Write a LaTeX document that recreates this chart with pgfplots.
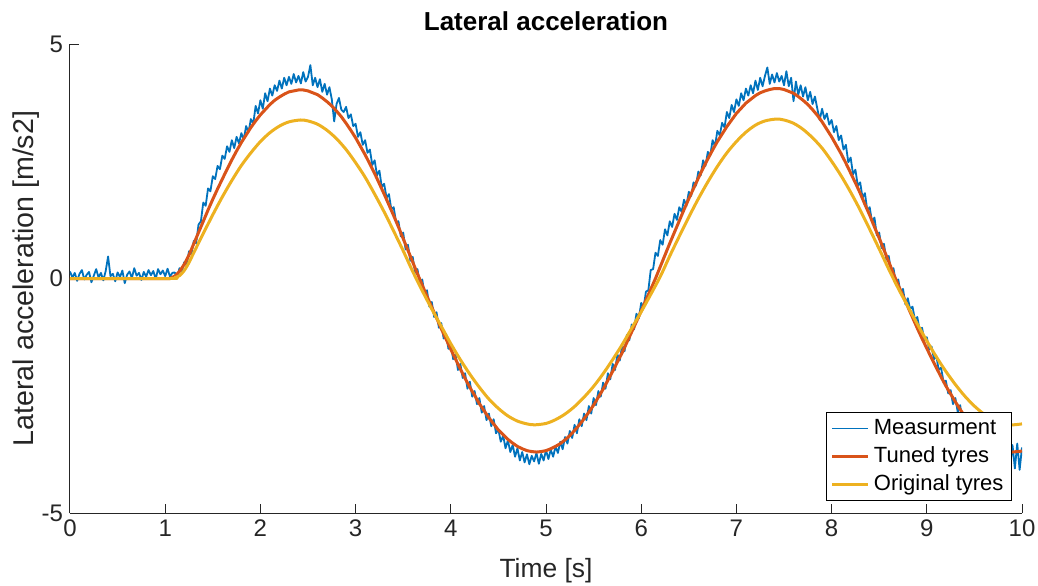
\documentclass[border=0pt]{standalone}
\usepackage{fontspec}
\setmainfont{Liberation Sans}
\usepackage{pgfplots}
\usepackage{pgfplotstable}
\pgfplotsset{compat=1.18}
\definecolor{mblue}{RGB}{0,114,189}
\definecolor{mred}{RGB}{217,83,25}
\definecolor{myel}{RGB}{237,177,32}
\definecolor{axgray}{RGB}{38,38,38}

\pgfplotstableread{
x y
0 0.15
0.025 0.02
0.05 0.12
0.075 -0.05
0.1 0.10
0.125 0.18
0.15 -0.02
0.175 0.08
0.2 0.14
0.225 -0.08
0.25 0.06
0.275 0.20
0.3 0.02
0.325 0.12
0.35 -0.04
0.375 0.16
0.4 0.47
0.425 0.05
0.45 0.10
0.475 -0.06
0.5 0.13
0.525 0.03
0.55 0.17
0.575 -0.10
0.6 0.08
0.625 0.15
0.65 0.01
0.675 0.22
0.7 0.06
0.725 0.12
0.75 -0.03
0.775 0.14
0.8 0.04
0.825 0.18
0.85 0.07
0.875 0.16
0.9 -0.01
0.925 0.20
0.95 0.09
0.975 0.17
1.0 0.05
1.025 0.21
1.05 0.04
1.075 0.12
1.1 0.13
1.125 0.02
1.15 0.22
1.175 0.14
1.2 0.35
1.225 0.28
1.25 0.58
1.275 0.52
1.3 0.80
1.325 0.75
1.35 1.15
1.375 1.22
1.4 1.62
1.425 1.55
1.45 1.92
1.475 1.86
1.5 2.18
1.525 2.12
1.55 2.40
1.575 2.33
1.6 2.62
1.625 2.55
1.65 2.82
1.675 2.70
1.7 2.95
1.725 2.78
1.75 3.02
1.775 2.88
1.8 3.10
1.825 2.96
1.85 3.25
1.875 3.12
1.9 3.40
1.925 3.30
1.95 3.68
1.975 3.52
2.0 3.80
2.025 3.62
2.05 3.95
2.075 3.78
2.1 4.05
2.125 3.90
2.15 4.12
2.175 4.00
2.2 4.22
2.225 4.05
2.25 4.28
2.275 4.12
2.3 4.30
2.325 4.15
2.35 4.36
2.375 4.18
2.4 4.32
2.425 4.16
2.45 4.40
2.475 4.20
2.5 4.30
2.525 4.55
2.55 4.12
2.575 4.28
2.6 4.08
2.625 4.25
2.65 3.98
2.675 4.15
2.7 3.92
2.725 4.08
2.75 3.82
2.775 3.35
2.8 3.72
2.825 3.85
2.85 3.60
2.875 3.55
2.9 3.66
2.925 3.42
2.95 3.50
2.975 3.25
3.0 3.30
3.025 3.02
3.05 3.12
3.075 2.85
3.1 2.95
3.125 2.68
3.15 2.75
3.175 2.42
3.2 2.52
3.225 2.20
3.25 2.30
3.275 1.95
3.3 2.02
3.325 1.72
3.35 1.80
3.375 1.48
3.4 1.52
3.425 1.20
3.45 1.22
3.475 0.90
3.5 0.98
3.525 0.62
3.55 0.72
3.575 0.38
3.6 0.46
3.625 0.12
3.65 0.20
3.675 -0.12
3.7 -0.02
3.725 -0.35
3.75 -0.25
3.775 -0.60
3.8 -0.50
3.825 -0.82
3.85 -0.72
3.875 -1.05
3.9 -0.95
3.925 -1.28
3.95 -1.18
3.975 -1.50
4.0 -1.40
4.025 -1.72
4.05 -1.62
4.075 -1.95
4.1 -1.82
4.125 -2.12
4.15 -2.02
4.175 -2.35
4.2 -2.20
4.225 -2.52
4.25 -2.40
4.275 -2.68
4.3 -2.55
4.325 -2.86
4.35 -2.72
4.375 -3.02
4.4 -2.88
4.425 -3.15
4.45 -3.00
4.475 -3.30
4.5 -3.22
4.525 -3.48
4.55 -3.35
4.575 -3.62
4.6 -3.45
4.625 -3.70
4.65 -3.55
4.675 -3.80
4.7 -3.62
4.725 -3.88
4.75 -3.70
4.775 -3.92
4.8 -3.75
4.825 -3.96
4.85 -3.78
4.875 -3.90
4.9 -3.72
4.925 -3.95
4.95 -3.74
4.975 -3.88
5.0 -3.66
5.025 -3.85
5.05 -3.65
5.075 -3.80
5.1 -3.58
5.125 -3.72
5.15 -3.48
5.175 -3.64
5.2 -3.38
5.225 -3.52
5.25 -3.25
5.275 -3.40
5.3 -3.12
5.325 -3.30
5.35 -3.00
5.375 -3.15
5.4 -2.88
5.425 -3.02
5.45 -2.72
5.475 -2.88
5.5 -2.55
5.525 -2.70
5.55 -2.40
5.575 -2.52
5.6 -2.22
5.625 -2.35
5.65 -2.02
5.675 -2.15
5.7 -1.82
5.725 -1.95
5.75 -1.62
5.775 -1.75
5.8 -1.42
5.825 -1.55
5.85 -1.20
5.875 -1.32
5.9 -0.98
5.925 -1.08
5.95 -0.75
5.975 -0.85
6.0 -0.52
6.025 -0.62
6.05 -0.28
6.075 -0.25
6.1 0.18
6.125 0.20
6.15 0.55
6.175 0.48
6.2 0.82
6.225 0.72
6.25 1.05
6.275 0.92
6.3 1.22
6.325 1.10
6.35 1.38
6.375 1.25
6.4 1.52
6.425 1.42
6.45 1.68
6.475 1.55
6.5 1.85
6.525 1.76
6.55 2.05
6.575 1.98
6.6 2.28
6.625 2.20
6.65 2.52
6.675 2.40
6.7 2.70
6.725 2.62
6.75 2.95
6.775 2.82
6.8 3.15
6.825 3.05
6.85 3.32
6.875 3.22
6.9 3.55
6.925 3.42
6.95 3.70
6.975 3.55
7.0 3.82
7.025 3.68
7.05 3.95
7.075 3.80
7.1 4.05
7.125 3.90
7.15 4.12
7.175 3.95
7.2 4.22
7.225 4.02
7.25 4.28
7.275 4.10
7.3 4.32
7.325 4.50
7.35 4.15
7.375 4.35
7.4 4.18
7.425 4.38
7.45 4.20
7.475 4.32
7.5 4.12
7.525 4.42
7.55 4.10
7.575 4.28
7.6 3.78
7.625 4.20
7.65 3.92
7.675 4.12
7.7 3.88
7.725 4.08
7.75 3.80
7.775 3.98
7.8 3.72
7.825 3.88
7.85 3.62
7.875 3.38
7.9 3.62
7.925 3.40
7.95 3.52
7.975 3.28
8.0 3.38
8.025 3.12
8.05 3.25
8.075 2.95
8.1 3.05
8.125 2.75
8.15 2.85
8.175 2.48
8.2 2.58
8.225 2.22
8.25 2.32
8.275 1.98
8.3 2.05
8.325 1.72
8.35 1.82
8.375 1.45
8.4 1.52
8.425 1.20
8.45 1.30
8.475 0.92
8.5 0.98
8.525 0.65
8.55 0.74
8.575 0.40
8.6 0.48
8.625 0.15
8.65 0.22
8.675 -0.10
8.7 -0.02
8.725 -0.32
8.75 -0.22
8.775 -0.55
8.8 -0.42
8.825 -0.65
8.85 -0.60
8.875 -0.88
8.9 -0.82
8.925 -1.10
8.95 -1.05
8.975 -1.32
9.0 -1.25
9.025 -1.52
9.05 -1.45
9.075 -1.72
9.1 -1.65
9.125 -1.95
9.15 -1.90
9.175 -2.20
9.2 -2.18
9.225 -2.45
9.25 -2.38
9.275 -2.68
9.3 -2.55
9.325 -2.85
9.35 -2.70
9.375 -3.02
9.4 -2.95
9.425 -3.15
9.45 -3.05
9.475 -3.30
9.5 -3.22
9.525 -3.45
9.55 -3.30
9.575 -3.55
9.6 -3.40
9.625 -3.65
9.65 -3.50
9.675 -3.75
9.7 -3.58
9.725 -3.82
9.75 -3.62
9.775 -3.90
9.8 -3.65
9.825 -3.95
9.85 -3.68
9.875 -4.00
9.9 -3.55
9.925 -4.05
9.95 -3.52
9.975 -4.08
10.0 -3.60
}\meas

\pgfplotstableread{
x y
0 0
1.05 0
1.1 0.05
1.15 0.15
1.2 0.30
1.25 0.50
1.3 0.74
1.35 0.98
1.4 1.22
1.45 1.46
1.5 1.69
1.55 1.91
1.6 2.12
1.65 2.33
1.7 2.53
1.75 2.72
1.8 2.90
1.85 3.06
1.9 3.22
1.95 3.36
2.0 3.49
2.05 3.60
2.1 3.71
2.15 3.80
2.2 3.87
2.25 3.93
2.3 3.98
2.35 4.00
2.4 4.02
2.45 4.02
2.5 4.00
2.55 3.96
2.6 3.92
2.65 3.85
2.7 3.77
2.75 3.68
2.8 3.57
2.85 3.45
2.9 3.31
2.95 3.16
3.0 3.00
3.05 2.82
3.1 2.64
3.15 2.44
3.2 2.24
3.25 2.02
3.3 1.80
3.35 1.57
3.4 1.34
3.45 1.10
3.5 0.85
3.55 0.60
3.6 0.35
3.65 0.10
3.7 -0.14
3.75 -0.38
3.8 -0.61
3.85 -0.84
3.9 -1.07
3.95 -1.29
4.0 -1.51
4.05 -1.72
4.1 -1.93
4.15 -2.13
4.2 -2.32
4.25 -2.49
4.3 -2.67
4.35 -2.82
4.4 -2.97
4.45 -3.10
4.5 -3.23
4.55 -3.33
4.6 -3.43
4.65 -3.51
4.7 -3.58
4.75 -3.63
4.8 -3.67
4.85 -3.69
4.9 -3.70
4.95 -3.69
5.0 -3.67
5.05 -3.63
5.1 -3.58
5.15 -3.52
5.2 -3.44
5.25 -3.35
5.3 -3.24
5.35 -3.12
5.4 -2.99
5.45 -2.85
5.5 -2.70
5.55 -2.53
5.6 -2.36
5.65 -2.17
5.7 -1.98
5.75 -1.78
5.8 -1.58
5.85 -1.36
5.9 -1.14
5.95 -0.92
6.0 -0.69
6.05 -0.46
6.1 -0.23
6.15 0.00
6.2 0.25
6.25 0.50
6.3 0.75
6.35 0.99
6.4 1.23
6.45 1.47
6.5 1.70
6.55 1.92
6.6 2.14
6.65 2.35
6.7 2.55
6.75 2.74
6.8 2.92
6.85 3.08
6.9 3.24
6.95 3.38
7.0 3.52
7.05 3.63
7.1 3.74
7.15 3.82
7.2 3.90
7.25 3.96
7.3 4.00
7.35 4.03
7.4 4.05
7.45 4.05
7.5 4.03
7.55 3.99
7.6 3.95
7.65 3.88
7.7 3.80
7.75 3.71
7.8 3.60
7.85 3.48
7.9 3.34
7.95 3.18
8.0 3.02
8.05 2.84
8.1 2.66
8.15 2.46
8.2 2.25
8.25 2.04
8.3 1.82
8.35 1.58
8.4 1.35
8.45 1.10
8.5 0.86
8.55 0.61
8.6 0.36
8.65 0.10
8.7 -0.14
8.75 -0.37
8.8 -0.60
8.85 -0.83
8.9 -1.06
8.95 -1.28
9.0 -1.49
9.05 -1.70
9.1 -1.90
9.15 -2.10
9.2 -2.29
9.25 -2.46
9.3 -2.63
9.35 -2.79
9.4 -2.94
9.45 -3.07
9.5 -3.20
9.55 -3.31
9.6 -3.41
9.65 -3.49
9.7 -3.56
9.75 -3.62
9.8 -3.66
9.85 -3.69
9.9 -3.70
9.95 -3.69
10.0 -3.68
}\tuned

\pgfplotstableread{
x y
0 0
1.05 0
1.1 0.02
1.15 0.06
1.2 0.17
1.25 0.34
1.3 0.55
1.4 0.96
1.5 1.36
1.6 1.74
1.7 2.09
1.8 2.41
1.9 2.68
2.0 2.92
2.1 3.11
2.2 3.25
2.3 3.34
2.42 3.38
2.5 3.36
2.6 3.29
2.7 3.16
2.8 2.98
2.9 2.75
3.0 2.47
3.1 2.16
3.2 1.80
3.3 1.42
3.4 1.01
3.5 0.59
3.6 0.15
3.7 -0.26
3.8 -0.65
3.9 -1.02
4.0 -1.39
4.1 -1.73
4.2 -2.04
4.3 -2.32
4.4 -2.57
4.5 -2.77
4.6 -2.93
4.7 -3.04
4.8 -3.10
4.88 -3.12
5.0 -3.09
5.1 -3.01
5.2 -2.89
5.3 -2.73
5.4 -2.53
5.5 -2.30
5.6 -2.03
5.7 -1.73
5.8 -1.41
5.9 -1.06
6.0 -0.71
6.1 -0.34
6.2 0.04
6.3 0.48
6.4 0.90
6.5 1.31
6.6 1.70
6.7 2.06
6.8 2.39
6.9 2.68
7.0 2.92
7.1 3.12
7.2 3.27
7.3 3.36
7.42 3.40
7.5 3.38
7.6 3.31
7.7 3.18
7.8 3.00
7.9 2.78
8.0 2.50
8.1 2.19
8.2 1.84
8.3 1.46
8.4 1.05
8.5 0.63
8.6 0.20
8.7 -0.21
8.8 -0.59
8.9 -0.97
9.0 -1.33
9.1 -1.67
9.2 -1.98
9.3 -2.26
9.4 -2.51
9.5 -2.72
9.6 -2.89
9.7 -3.01
9.8 -3.09
9.9 -3.12
10.0 -3.10
}\original

\begin{document}
\begin{tikzpicture}
\useasboundingbox (-35pt,-36pt) rectangle (484pt,256.5pt);
\begin{axis}[
  scale only axis,
  width=476pt, height=234.5pt,
  xmin=0, xmax=10, ymin=-5, ymax=5,
  axis x line*=bottom, axis y line*=left,
  axis line style={-, axgray, line width=0.5pt},
  xtick={0,1,2,3,4,5,6,7,8,9,10},
  xticklabels={0,1,2,3,4,5,6,7,8,9,10},
  ytick={-5,0,5},
  yticklabels={-5,0,5},
  tick align=inside,
  major tick length=4.5pt,
  tick style={axgray, line width=0.5pt},
  ticklabel style={font=\fontsize{12}{14}\selectfont, text=axgray},
  xlabel={Time [s]},
  ylabel={Lateral acceleration [m/s2]},
  xlabel style={font=\fontsize{13.2}{15}\selectfont, text=axgray, yshift=-4pt},
  ylabel style={font=\fontsize{14.3}{16}\selectfont, text=axgray, yshift=-6pt},
  title={Lateral acceleration},
  title style={font=\bfseries\fontsize{13}{15}\selectfont, yshift=-3pt},
  legend style={at={(0.9895,0.0256)}, anchor=south east, draw=black,
    line width=0.5pt, fill=white, font=\fontsize{11}{13}\selectfont,
    inner xsep=2pt, inner ysep=1.5pt, row sep=0.5pt},
  legend cell align=left,
  legend image code/.code={\draw[#1] (0pt,0pt) -- (18pt,0pt);},
]
\addplot[mblue, line width=0.9pt, line join=round] table[x=x, y=y] {\meas};
\addlegendentry{Measurment}
\addplot[mred, line width=1.5pt, line join=round] table[x=x, y=y] {\tuned};
\addlegendentry{Tuned tyres}
\addplot[myel, line width=1.5pt, smooth, line join=round] table[x=x, y=y] {\original};
\addlegendentry{Original tyres}
\end{axis}
\end{tikzpicture}
\end{document}
